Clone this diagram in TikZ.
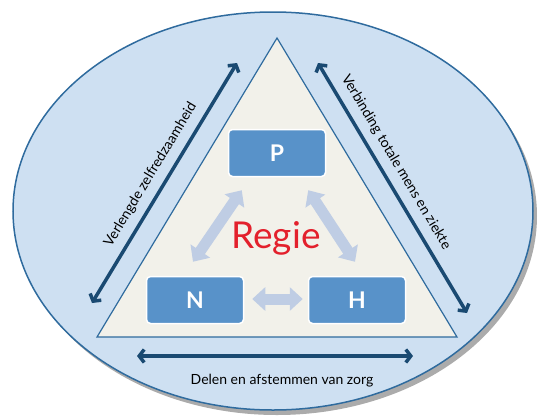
\documentclass[tikz,border=0pt]{standalone}
\usepackage{fontspec}
\setmainfont{Lato}
\usetikzlibrary{calc,arrows.meta,shadows}

\definecolor{ovalfill}{HTML}{CEE0F2}
\definecolor{ovalline}{HTML}{2F6B9E}
\definecolor{trifill}{HTML}{F2F1EA}
\definecolor{navy}{HTML}{1A4A72}
\definecolor{boxfill}{HTML}{5892C9}
\definecolor{pale}{HTML}{BFCDE4}
\definecolor{regiered}{HTML}{E3202C}

\begin{document}
\begin{tikzpicture}[x=1pt, y=-1pt,
  box/.style={draw=white, line width=1.5pt, fill=boxfill, rounded corners=4pt,
    minimum width=97pt, minimum height=47pt, text=white,
    font=\fontsize{23}{25}\selectfont\bfseries},
  fat/.style={pale, line width=11pt,
    {Triangle[length=13pt,width=23pt]}-{Triangle[length=13pt,width=23pt]}},
  dark/.style={navy, line width=3.5pt,
    {Straight Barb[length=5pt,width=13pt]}-{Straight Barb[length=5pt,width=13pt]}},
  lbl/.style={text=black, font=\fontsize{14}{16}\selectfont, inner sep=0pt}]

\useasboundingbox (0,0) rectangle (539,416);

\fill[ovalfill, draw=ovalline, line width=1.5pt,
  drop shadow={shadow xshift=4pt, shadow yshift=-5pt, fill=black!55, opacity=0.6}]
  (273,211) ellipse [x radius=260, y radius=199];

\coordinate (L) at (97,337);
\coordinate (R) at (457,337);
\coordinate (T) at (277,38);
\draw[ovalline, fill=trifill, line width=1.2pt] (L) -- (R) -- (T) -- cycle;

\node[box] (P) at (277,153) {P};
\node[box] (N) at (195,300) {N};
\node[box] (H) at (357,300) {H};
\node[anchor=base, text=regiered, font=\fontsize{37}{42}\selectfont] (regie) at (276,248) {Regie};

\draw[fat] ([shift={(14,13)}]P.south west) -- ([shift={(-2,-14)}]N.north);
\draw[fat] ([shift={(-18,13)}]P.south east) -- ([shift={(-2,-14)}]H.north);
\draw[fat] ([shift={(8,-1)}]N.east) -- ([shift={(-5,-1)}]H.west);

\coordinate (a1) at (92,303);
\coordinate (a2) at (237,63);
\coordinate (b1) at (318,63);
\coordinate (b2) at (467,313);
\coordinate (c1) at (137,356);
\coordinate (c2) at (413,356);

\draw[dark] (a1) -- (a2) node[lbl, midway, sloped, above=8pt] (left) {Verlengde zelfredzaamheid};
\draw[dark] (b1) -- (b2) node[lbl, pos=0.43, sloped, above=8pt] (right) {Verbinding totale mens en ziekte};
\draw[dark] (c1) -- (c2);
\node[lbl, anchor=base] (bottom) at (282,384) {Delen en afstemmen van zorg};

\end{tikzpicture}
\end{document}
